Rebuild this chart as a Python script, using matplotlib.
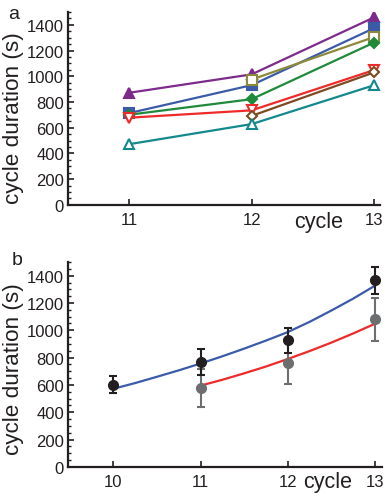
import numpy as np
import matplotlib.pyplot as plt
from matplotlib.ticker import MultipleLocator
import matplotlib.transforms as mtransforms

plt.rcParams['font.family'] = ['Liberation Sans', 'DejaVu Sans']

# -----------------------------
# Data: panel a (individual embryos)
# -----------------------------
cycles_a = [11, 12, 13]
purple_vals = [872, 1015, 1458]
blue_vals = [714, 931, 1374]
olive_vals = [np.nan, 975, 1305]
green_vals = [701, 822, 1262]
red_vals = [678, 735, 1048]
brown_vals = [np.nan, 692, 1030]
teal_vals = [472, 628, 930]

# -----------------------------
# Data: panel b (means, error bars, fits)
# -----------------------------
cycles_black = [10, 11, 12, 13]
black_mean = [603, 770, 927, 1367]
black_err = [60, 95, 92, 98]

cycles_gray = [11, 12, 13]
gray_mean = [578, 762, 1080]
gray_err = [140, 152, 160]

fit_blue_x = [10, 10.25, 10.5, 10.75, 11, 11.25, 11.5, 11.75, 12, 12.25, 12.5, 12.75, 13]
fit_blue_y = [572, 614, 660, 707, 757, 810, 866, 925, 987, 1062, 1145, 1232, 1327]
fit_red_x = [11, 11.25, 11.5, 11.75, 12, 12.25, 12.5, 12.75, 13]
fit_red_y = [595, 638, 685, 735, 790, 848, 910, 977, 1048]

yticks = [0, 200, 400, 600, 800, 1000, 1200, 1400]

ink = "#231f20"

fig = plt.figure(figsize=(3.85, 5.02), dpi=100)
ax_a = fig.add_axes([0.177, 0.590, 0.810, 0.384])
ax_b = fig.add_axes([0.177, 0.068, 0.815, 0.408])

# -----------------------------
# Panel a
# -----------------------------
series = [
    (purple_vals, "#7d2b8b", "^", True),
    (blue_vals, "#3b5ba8", "s", True),
    (olive_vals, "#8c8a3a", "s", False),
    (green_vals, "#1f8a3b", "D", True),
    (red_vals, "#ee2a2a", "v", False),
    (brown_vals, "#7e4a22", "D", False),
    (teal_vals, "#14898c", "^", False),
]
for vals, col, mk, filled in series:
    ms = 5.5 if mk == "D" else 7
    ax_a.plot(cycles_a, vals, color=col, lw=1.6, marker=mk, ms=ms,
              mfc=col if filled else "white", mec=col, mew=1.5)

ax_a.set_xlim(10.5, 13.05)
ax_a.set_xticks(cycles_a)

# -----------------------------
# Panel b
# -----------------------------
ax_b.plot(fit_blue_x, fit_blue_y, color="#3b5ba8", lw=1.6, zorder=2)
ax_b.plot(fit_red_x, fit_red_y, color="#ee2a2a", lw=1.6, zorder=2)
ax_b.errorbar(cycles_gray, gray_mean, yerr=gray_err, fmt="o", color="#6d6e70",
              ms=7, capsize=3, elinewidth=1.5, capthick=1.5, zorder=3)
ax_b.errorbar(cycles_black, black_mean, yerr=black_err, fmt="o", color=ink,
              ms=7, capsize=3, elinewidth=1.5, capthick=1.5, zorder=4)

ax_b.set_xlim(9.48, 13.08)
ax_b.set_xticks(cycles_black)

# -----------------------------
# Shared styling
# -----------------------------
panel_pos = {"a": (-0.176, 0.995), "b": (-0.162, 1.01)}
ylab_pos = {"a": (-0.176, 0.453), "b": (-0.175, 0.48)}
xlab_pos = {"a": (12.55, -0.085), "b": (12.46, -0.072)}
for ax, lab in [(ax_a, "a"), (ax_b, "b")]:
    ax.set_ylim(0, 1500)
    ax.set_yticks(yticks)
    ax.yaxis.set_minor_locator(MultipleLocator(50))
    ax.spines["top"].set_visible(False)
    ax.spines["right"].set_visible(False)
    for s in ["left", "bottom"]:
        ax.spines[s].set_linewidth(1.6)
        ax.spines[s].set_color(ink)
    ax.tick_params(which="major", direction="in", length=4, width=1.2,
                   labelsize=12, colors=ink, pad=3)
    ax.tick_params(which="minor", direction="in", length=2.5, width=1.0, colors=ink)
    ax.tick_params(axis="x", pad=5)
    ax.set_ylabel("cycle duration (s)", fontsize=16.2, color=ink, va="center")
    ax.yaxis.set_label_coords(*ylab_pos[lab])
    trans = mtransforms.blended_transform_factory(ax.transData, ax.transAxes)
    xx, yy = xlab_pos[lab]
    ax.text(xx, yy, "cycle", transform=trans,
            fontsize=15.5, color=ink, ha="center", va="center")
    px, py = panel_pos[lab]
    ax.text(px, py, lab, transform=ax.transAxes, fontsize=14, color=ink,
            ha="center", va="center")

fig.savefig("out.png", dpi=100)
